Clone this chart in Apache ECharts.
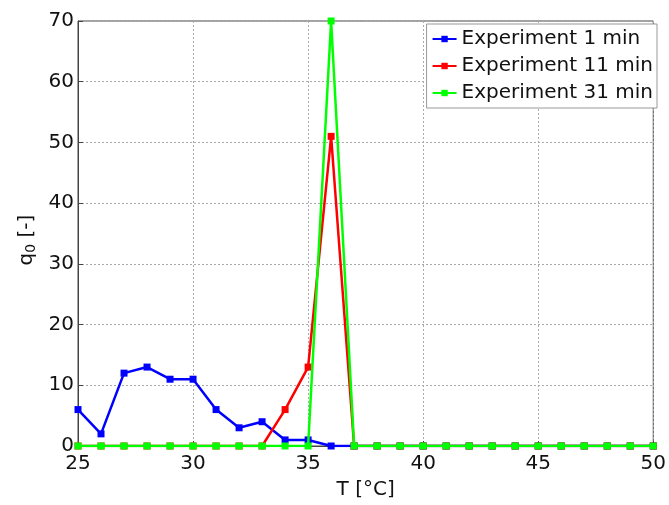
<!DOCTYPE html>
<html>
<head>
<meta charset="utf-8">
<script src="https://cdn.jsdelivr.net/npm/echarts@6/dist/echarts.min.js"></script>
<style>
  html, body { margin: 0; padding: 0; background: #fff; }
  #chart { width: 669px; height: 505px; }
</style>
</head>
<body>
<div id="chart"></div>
<script>
// Temperature steps (°C)
const temperatures = [25, 26, 27, 28, 29, 30, 31, 32, 33, 34, 35, 36, 37, 38, 39, 40, 41, 42, 43, 44, 45, 46, 47, 48, 49, 50];

// q0 values for each exposure time
const q1min  = [6, 2, 12, 13, 11, 11, 6, 3, 4, 1, 1, 0, 0, 0, 0, 0, 0, 0, 0, 0, 0, 0, 0, 0, 0, 0];
const q11min = [0, 0, 0, 0, 0, 0, 0, 0, 0, 6, 13, 51, 0, 0, 0, 0, 0, 0, 0, 0, 0, 0, 0, 0, 0, 0];
const q31min = [0, 0, 0, 0, 0, 0, 0, 0, 0, 0, 0, 70, 0, 0, 0, 0, 0, 0, 0, 0, 0, 0, 0, 0, 0, 0];

const seriesNames = ['Experiment 1 min', 'Experiment 11 min', 'Experiment 31 min'];
const seriesColors = ['#0000ff', '#ff0000', '#00ff00'];
const seriesValues = [q1min, q11min, q31min];

const xTicks = [25, 30, 35, 40, 45, 50];
const yTicks = [0, 10, 20, 30, 40, 50, 60, 70];

const font = "'DejaVu Sans', 'Liberation Sans', Arial, sans-serif";

const chart = echarts.init(document.getElementById('chart'));

chart.setOption({
  animation: false,
  backgroundColor: '#ffffff',
  grid: {
    left: 78, right: 13, top: 21, bottom: 51,
    show: true, borderColor: '#444', borderWidth: 1
  },
  legend: {
    data: seriesNames,
    orient: 'vertical',
    right: 12, top: 24,
    backgroundColor: '#ffffff',
    borderColor: '#999',
    borderWidth: 1,
    borderRadius: 0,
    padding: [5, 4, 5, 5],
    itemGap: 7,
    itemWidth: 24,
    itemHeight: 8,
    textStyle: { fontFamily: font, fontSize: 20, color: '#111' }
  },
  xAxis: {
    type: 'value',
    min: xTicks[0], max: xTicks[xTicks.length - 1], interval: 5,
    name: 'T [°C]',
    nameLocation: 'middle',
    nameGap: 34,
    nameTextStyle: { fontFamily: font, fontSize: 20, color: '#111' },
    axisLine: { show: true, lineStyle: { color: '#444', width: 1 } },
    axisTick: { show: true, inside: true, length: 5, lineStyle: { color: '#444' } },
    axisLabel: { fontFamily: font, fontSize: 20, color: '#111', margin: 8 },
    splitLine: { show: true, lineStyle: { color: '#aaa', type: [2, 2], width: 1 } }
  },
  yAxis: {
    type: 'value',
    min: yTicks[0], max: yTicks[yTicks.length - 1], interval: 10,
    axisLine: { show: true, lineStyle: { color: '#444', width: 1 } },
    axisTick: { show: true, inside: true, length: 5, lineStyle: { color: '#444' } },
    axisLabel: { fontFamily: font, fontSize: 20, color: '#111', margin: 4 },
    splitLine: { show: true, lineStyle: { color: '#aaa', type: [2, 2], width: 1 } }
  },
  graphic: [{
    type: 'text',
    x: 27, y: 240,
    rotation: Math.PI / 2,
    style: {
      text: '{a|q}{b|0}{a| [-]}',
      fontFamily: font,
      fill: '#111',
      align: 'center',
      verticalAlign: 'middle',
      rich: {
        a: { fontFamily: font, fontSize: 20, fill: '#111' },
        b: { fontFamily: font, fontSize: 14, fill: '#111', verticalAlign: 'bottom', padding: [8, 0, 0, 0] }
      }
    }
  }],
  series: seriesNames.map((name, i) => ({
    name: name,
    type: 'line',
    data: temperatures.map((t, k) => [t, seriesValues[i][k]]),
    symbol: 'rect',
    symbolSize: 7,
    itemStyle: { color: seriesColors[i] },
    lineStyle: { color: seriesColors[i], width: 2.5 },
    z: 2 + i
  }))
});
</script>
</body>
</html>
